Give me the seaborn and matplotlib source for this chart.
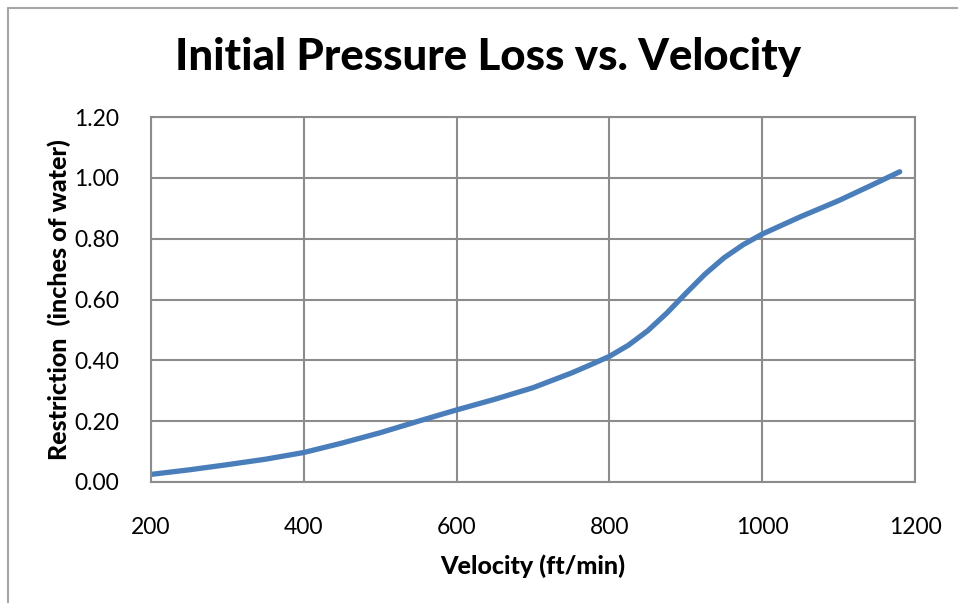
import pandas as pd
import matplotlib.pyplot as plt
import seaborn as sns
from matplotlib.lines import Line2D

# values
velocity = [200, 250, 300, 350, 400, 450, 500, 550, 600, 650, 700, 750, 775,
            800, 825, 850, 875, 900, 925, 950, 975, 1000, 1050, 1100, 1140, 1180]
restriction = [0.025, 0.04, 0.057, 0.075, 0.097, 0.128, 0.162, 0.2, 0.237, 0.272, 0.31,
               0.358, 0.385, 0.413, 0.45, 0.497, 0.555, 0.62, 0.683, 0.737, 0.78,
               0.815, 0.872, 0.925, 0.972, 1.02]
x_ticks = [200, 400, 600, 800, 1000, 1200]
y_ticks = [0.0, 0.2, 0.4, 0.6, 0.8, 1.0, 1.2]

sns.set_style("white")
plt.rcParams["font.family"] = ["Lato", "DejaVu Sans"]
plt.rcParams["text.color"] = "black"
plt.rcParams["axes.labelcolor"] = "black"

GRID = "#8c8c8c"

def main():
    df = pd.DataFrame({"velocity": velocity, "restriction": restriction})

    fig = plt.figure(figsize=(9.58, 6.03), dpi=100)
    ax = fig.add_axes([151 / 958, 1 - 482 / 603, (915 - 151) / 958, (482 - 117) / 603])

    sns.lineplot(data=df, x="velocity", y="restriction", ax=ax,
                 color="#4a7ebb", linewidth=3.8, solid_capstyle="round",
                 solid_joinstyle="round")

    ax.set_xlim(200, 1200)
    ax.set_ylim(0, 1.2)
    ax.set_xticks(x_ticks)
    ax.set_yticks(y_ticks)
    ax.set_yticklabels([f"{v:.2f}" for v in y_ticks])
    ax.grid(True, color=GRID, linewidth=1.5)
    for s in ax.spines.values():
        s.set_color(GRID)
        s.set_linewidth(1.5)
    ax.tick_params(axis="both", length=0, labelsize=16.5, labelcolor="black")
    ax.tick_params(axis="x", pad=25)
    ax.tick_params(axis="y", pad=23)

    ax.set_xlabel("Velocity (ft/min)", fontsize=18, fontweight="black", labelpad=12)
    ax.set_ylabel("Restriction  (inches of water)", fontsize=18, fontweight="black", labelpad=2)
    fig.text(488 / 958, 1 - 57 / 603, "Initial Pressure Loss vs. Velocity",
             ha="center", va="center", fontsize=31.5, fontweight="black")

    # chart area border (only top and left visible in the crop)
    fig.add_artist(Line2D([7.5 / 958, 7.5 / 958], [0, 1 - 7.5 / 603], color="#a6a6a6", linewidth=1.5))
    fig.add_artist(Line2D([7.5 / 958, 1], [1 - 7.5 / 603, 1 - 7.5 / 603], color="#a6a6a6", linewidth=1.5))

    fig.savefig("out.png", dpi=100)

if __name__ == "__main__":
    main()
